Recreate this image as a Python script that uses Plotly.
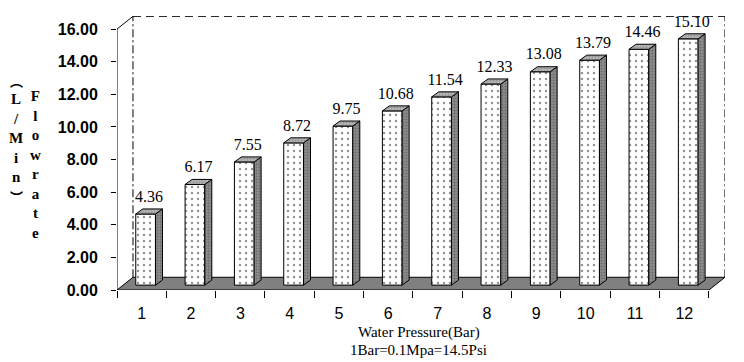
import plotly.graph_objects as go

# ---- data ----
pressures = [1, 2, 3, 4, 5, 6, 7, 8, 9, 10, 11, 12]
flowrates = [4.36, 6.17, 7.55, 8.72, 9.75, 10.68, 11.54, 12.33, 13.08, 13.79, 14.46, 15.10]
y_ticks = [0, 2, 4, 6, 8, 10, 12, 14, 16]
x_title = "Water Pressure(Bar)"
x_note = "1Bar=0.1Mpa=14.5Psi"
y_title_main = "Flowrate"
y_title_unit = "L/Min"
unit_open, unit_close = "︵", "︶"

# ---- geometry (style) ----
OFF = 8                      # page body margin
W, H = 744 - OFF, 362 - OFF
L, R, T, B = 117 - OFF, 19, 16 - OFF, 72
XR = [0.5, 12.825]
YR = [0, 16.8]
DX, DY = 0.324, 0.78        # floor / wall depth
BASE = 0.3                  # bar base above front edge
BW, BOFF = 0.4, -0.12       # bar width / offset
SDX, SDY = 0.142, 0.31      # bar depth
LABEL_LIFT = 0.2

pw = W - L - R
ph = H - T - B
def px(xp):
    return (xp - OFF - L) / pw
def py(yp):
    return (H - B - (yp - OFF)) / ph

SERIF = "Liberation Serif, Times New Roman, serif"
SANS = "Liberation Sans, Arial, sans-serif"

fig = go.Figure()

# front faces
fig.add_trace(go.Bar(
    x=pressures, y=flowrates, base=BASE, width=BW, offset=BOFF,
    marker=dict(color="white", line=dict(color="black", width=1),
                pattern=dict(shape=".", bgcolor="white", fgcolor="#222222",
                             size=6, solidity=0.12)),
    hoverinfo="skip", showlegend=False))

# side faces and top faces
sx, sy, tx, ty = [], [], [], []
for p, v in zip(pressures, flowrates):
    x0 = p + BOFF
    x1 = x0 + BW
    top = v + BASE
    sx += [x1, x1 + SDX, x1 + SDX, x1, x1, None]
    sy += [BASE, BASE + SDY, top + SDY, top, BASE, None]
    tx += [x0, x1, x1 + SDX, x0 + SDX, x0, None]
    ty += [top, top, top + SDY, top + SDY, top, None]

fig.add_trace(go.Scatter(
    x=sx, y=sy, mode="lines", fill="toself", fillcolor="#8c8c8c",
    fillpattern=dict(shape=".", bgcolor="#8c8c8c", fgcolor="#4a4a4a", size=3, solidity=0.35),
    line=dict(color="black", width=1), hoverinfo="skip", showlegend=False))
fig.add_trace(go.Scatter(
    x=tx, y=ty, mode="lines", fill="toself", fillcolor="#b4b4b4",
    fillpattern=dict(shape=".", bgcolor="#b4b4b4", fgcolor="#707070", size=3, solidity=0.35),
    line=dict(color="black", width=1), hoverinfo="skip", showlegend=False))

# value labels
fig.add_trace(go.Scatter(
    x=[p + BOFF + BW / 2 + SDX / 2 for p in pressures],
    y=[v + BASE + SDY + LABEL_LIFT for v in flowrates],
    mode="text", text=[f"{v:.2f}" for v in flowrates], textposition="top center",
    textfont=dict(family=SERIF, size=16, color="black"),
    hoverinfo="skip", showlegend=False))

x_front_end = pressures[-1] + 0.5
shapes = [
    # floor
    dict(type="path", layer="below",
         path=f"M {XR[0]},0 L {x_front_end},0 L {x_front_end+DX},{DY} L {XR[0]+DX},{DY} Z",
         fillcolor="#808080", line=dict(color="black", width=1)),
    # back wall
    dict(type="line", layer="below", x0=XR[0] + DX, y0=y_ticks[-1] + DY, x1=x_front_end + DX, y1=y_ticks[-1] + DY,
         line=dict(color="black", width=1, dash="8px,5px")),
    dict(type="line", layer="below", x0=XR[0] + DX, y0=DY, x1=XR[0] + DX, y1=y_ticks[-1] + DY,
         line=dict(color="black", width=1, dash="8px,3px,2px,3px")),
    dict(type="line", layer="below", x0=x_front_end + DX, y0=DY, x1=x_front_end + DX, y1=y_ticks[-1] + DY,
         line=dict(color="black", width=1, dash="8px,3px,2px,3px")),
    # value axis line
    dict(type="path", layer="above",
         path=f"M {XR[0]},0 L {XR[0]},{y_ticks[-1]} L {XR[0]+DX},{y_ticks[-1]+DY}",
         line=dict(color="black", width=1)),
]

annotations = [
    dict(xref="paper", yref="paper", x=px(418.5), y=py(332), xanchor="center", yanchor="middle",
         text=x_title, showarrow=False, font=dict(family=SERIF, size=15, color="black")),
    dict(xref="paper", yref="paper", x=px(418.5), y=py(349.5), xanchor="center", yanchor="middle",
         text=x_note, showarrow=False, font=dict(family=SERIF, size=15, color="black")),
    dict(xref="paper", yref="paper", x=px(35), y=py(164), xanchor="center", yanchor="middle",
         text="<br>".join(y_title_main), showarrow=False,
         font=dict(family=SERIF, size=15, color="black", weight="bold")),
    dict(xref="paper", yref="paper", x=px(16), y=py(138), xanchor="center", yanchor="middle",
         text="<br>".join(y_title_unit), showarrow=False,
         font=dict(family=SERIF, size=15, color="black", weight="bold")),
    dict(xref="paper", yref="paper", x=px(16), y=py(80), xanchor="center", yanchor="middle",
         text=unit_open, showarrow=False,
         font=dict(family="Noto Sans CJK SC", size=13, color="black", weight="bold")),
    dict(xref="paper", yref="paper", x=px(16), y=py(196), xanchor="center", yanchor="middle",
         text=unit_close, showarrow=False,
         font=dict(family="Noto Sans CJK SC", size=13, color="black", weight="bold")),
]

fig.update_layout(
    width=W, height=H, autosize=False,
    margin=dict(l=L, r=R, t=T, b=B, pad=0),
    paper_bgcolor="white", plot_bgcolor="white",
    shapes=shapes, annotations=annotations, showlegend=False,
    xaxis=dict(range=XR, showgrid=False, zeroline=False, showline=False,
               tickmode="array", tickvals=pressures, ticktext=[str(p) for p in pressures],
               ticks="", ticklabelstandoff=12,
               minor=dict(tickmode="array", tickvals=[p - 0.5 for p in pressures] + [x_front_end],
                          ticks="outside", ticklen=7, tickcolor="black", tickwidth=1),
               tickfont=dict(family=SANS, size=16, color="black")),
    yaxis=dict(range=YR, showgrid=False, zeroline=False, showline=False,
               tickmode="array", tickvals=y_ticks, ticktext=[f"{t:.2f}" for t in y_ticks],
               ticks="outside", ticklen=5, tickcolor="black", tickwidth=1, ticklabelstandoff=10,
               tickfont=dict(family=SANS, size=16, color="black", weight="bold")),
)

fig.write_html("out.html")
